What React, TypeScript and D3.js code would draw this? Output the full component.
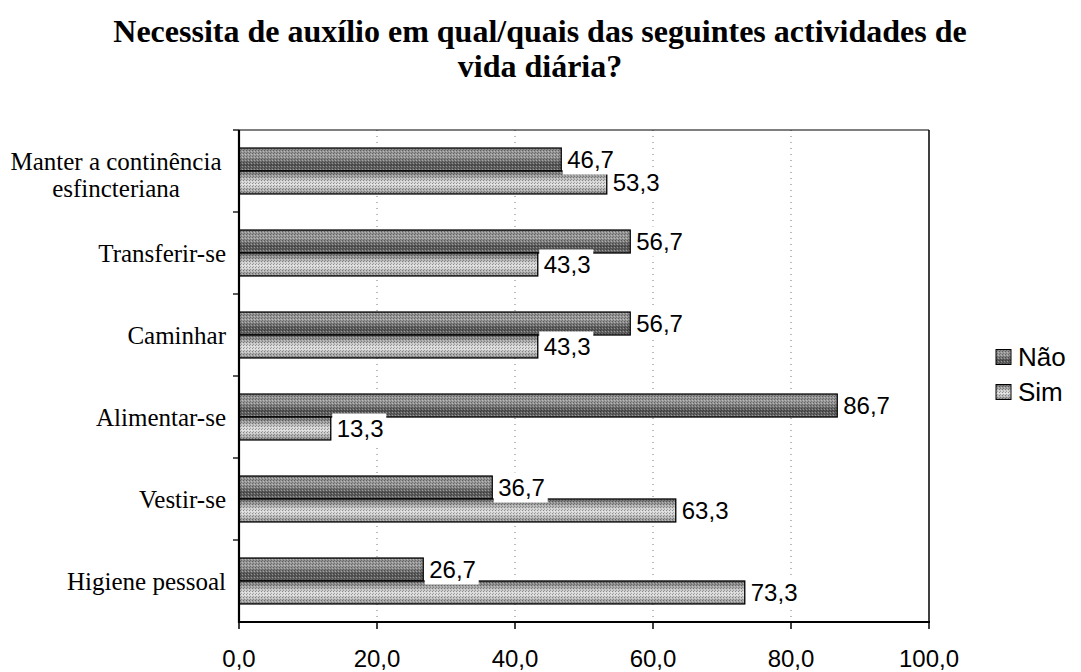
import React from "react";
import * as d3 from "d3";

const categories = [
  "Manter a continência esfincteriana",
  "Transferir-se",
  "Caminhar",
  "Alimentar-se",
  "Vestir-se",
  "Higiene pessoal",
];
const categoryLines: string[][] = [
  ["Manter a continência", "esfincteriana"],
  ["Transferir-se"],
  ["Caminhar"],
  ["Alimentar-se"],
  ["Vestir-se"],
  ["Higiene pessoal"],
];
const series = ["Não", "Sim"];
const naoValues = [46.7, 56.7, 56.7, 86.7, 36.7, 26.7];
const simValues = [53.3, 43.3, 43.3, 13.3, 63.3, 73.3];
const xTicks = [0, 20, 40, 60, 80, 100];
const titleLines = [
  "Necessita de auxílio em qual/quais das seguintes actividades de",
  "vida diária?",
];

const W = 1081;
const H = 672;
const plot = { left: 239, right: 929, top: 130, bottom: 622 };

const fmt = (v: number) => v.toFixed(1).replace(".", ",");

export default function App() {
  const x = d3.scaleLinear().domain([0, 100]).range([plot.left, plot.right]);
  const y = d3
    .scaleBand<string>()
    .domain(categories)
    .range([plot.top, plot.bottom])
    .paddingInner(0.44)
    .paddingOuter(0.22);
  const inner = d3.scaleBand<string>().domain(series).range([0, y.bandwidth()]);
  const valuesBySeries = [naoValues, simValues];
  const step = y.step();

  const bars: any[] = [];
  const labels: any[] = [];
  categories.forEach((c, i) => {
    series.forEach((s, si) => {
      const v = valuesBySeries[si][i];
      const y0 = (y(c) as number) + (inner(s) as number);
      const h = inner.bandwidth();
      bars.push({ key: c + s, x0: x(0), x1: x(v), y0, h, si });
      labels.push({ key: c + s + "l", x: x(v), yc: y0 + h / 2, text: fmt(v) });
    });
  });

  return (
    <svg width={W} height={H} style={{ display: "block", position: "absolute", left: 0, top: 0 }}>
      <defs>
        <linearGradient id="gNao" x1="0" y1="0" x2="0" y2="1">
          <stop offset="0" stopColor="#8c8c8c" />
          <stop offset="0.35" stopColor="#9c9c9c" />
          <stop offset="0.72" stopColor="#555555" />
          <stop offset="1" stopColor="#6e6e6e" />
        </linearGradient>
        <linearGradient id="gSim" x1="0" y1="0" x2="0" y2="1">
          <stop offset="0" stopColor="#6a6a6a" />
          <stop offset="0.45" stopColor="#d4d4d4" />
          <stop offset="0.6" stopColor="#dedede" />
          <stop offset="1" stopColor="#8a8a8a" />
        </linearGradient>
        <pattern id="dither" width="3" height="3" patternUnits="userSpaceOnUse">
          <rect x="0" y="0" width="1" height="1" fill="#000" fillOpacity="0.35" />
          <rect x="2" y="1" width="1" height="1" fill="#fff" fillOpacity="0.35" />
          <rect x="1" y="2" width="1" height="1" fill="#000" fillOpacity="0.25" />
        </pattern>
      </defs>
      <rect x={0} y={0} width={W} height={H} fill="#fff" />

      {titleLines.map((t, i) => (
        <text
          key={t}
          x={540}
          y={42 + i * 35}
          textAnchor="middle"
          fontFamily="'Liberation Serif', 'Times New Roman', serif"
          fontWeight="bold"
          fontSize={32}
          fill="#000"
        >
          {t}
        </text>
      ))}

      {/* gridlines */}
      {xTicks.slice(1, -1).map((t) => (
        <line
          key={"g" + t}
          x1={x(t)}
          x2={x(t)}
          y1={plot.top}
          y2={plot.bottom}
          stroke="#777"
          strokeWidth={1}
          strokeDasharray="1,5"
        />
      ))}

      {/* bars */}
      {bars.map((b) => (
        <g key={b.key}>
          <rect
            x={b.x0}
            y={b.y0}
            width={b.x1 - b.x0}
            height={b.h}
            fill={b.si === 0 ? "url(#gNao)" : "url(#gSim)"}
          />
          <rect x={b.x0} y={b.y0} width={b.x1 - b.x0} height={b.h} fill="url(#dither)" />
          <rect
            x={b.x0}
            y={b.y0}
            width={b.x1 - b.x0}
            height={b.h}
            fill="none"
            stroke="#000"
            strokeWidth={1.3}
          />
        </g>
      ))}

      {/* data labels */}
      {labels.map((l) => (
        <g key={l.key}>
          <rect x={l.x + 1.5} y={l.yc - 15} width={54} height={30} fill="#fff" />
          <text
            x={l.x + 6}
            y={l.yc}
            dy="0.36em"
            fontFamily="'Liberation Sans', Arial, sans-serif"
            fontSize={24}
            fill="#000"
          >
            {l.text}
          </text>
        </g>
      ))}

      {/* plot border */}
      <line x1={plot.left} x2={plot.right} y1={plot.top} y2={plot.top} stroke="#000" strokeWidth={1.2} />
      <line x1={plot.right} x2={plot.right} y1={plot.top} y2={plot.bottom} stroke="#000" strokeWidth={1.5} />
      {/* axes */}
      <line x1={plot.left} x2={plot.left} y1={plot.top} y2={plot.bottom + 1} stroke="#000" strokeWidth={2.2} />
      <line x1={plot.left - 1} x2={plot.right + 1} y1={plot.bottom} y2={plot.bottom} stroke="#000" strokeWidth={2.2} />

      {/* left ticks at category boundaries */}
      {categories.map((c, i) => (
        <line
          key={"lt" + i}
          x1={plot.left - 6}
          x2={plot.left}
          y1={plot.top + i * step}
          y2={plot.top + i * step}
          stroke="#000"
          strokeWidth={1.3}
        />
      ))}
      {/* bottom ticks */}
      {xTicks.map((t) => (
        <g key={"bt" + t}>
          <line x1={x(t)} x2={x(t)} y1={plot.bottom} y2={plot.bottom + 7} stroke="#000" strokeWidth={1.5} />
          <text
            x={x(t)}
            y={plot.bottom + 36}
            dy="0.36em"
            textAnchor="middle"
            fontFamily="'Liberation Sans', Arial, sans-serif"
            fontSize={24}
            fill="#000"
          >
            {fmt(t)}
          </text>
        </g>
      ))}

      {/* category labels */}
      {categories.map((c, i) => {
        const lines = categoryLines[i];
        const multi = lines.length > 1;
        const yc = (y(c) as number) + y.bandwidth() / 2 + (multi ? 4 : 0);
        const lh = 27;
        const cx = multi ? 116 : 226;
        return (
          <text
            key={"cl" + i}
            x={cx}
            textAnchor={multi ? "middle" : "end"}
            fontFamily="'Liberation Serif', 'Times New Roman', serif"
            fontSize={25}
            fill="#000"
          >
            {lines.map((ln, j) => (
              <tspan key={j} x={cx} y={yc + (j - (lines.length - 1) / 2) * lh} dy="0.35em">
                {ln}
              </tspan>
            ))}
          </text>
        );
      })}

      {/* legend */}
      {series.map((s, i) => (
        <g key={"lg" + s} transform={`translate(996, ${357 + i * 35})`}>
          <rect x={0} y={-7.5} width={15} height={15} fill={i === 0 ? "url(#gNao)" : "url(#gSim)"} />
          <rect x={0} y={-7.5} width={15} height={15} fill="url(#dither)" />
          <rect x={0} y={-7.5} width={15} height={15} fill="none" stroke="#000" strokeWidth={1} />
          <text
            x={22}
            y={0}
            dy="0.36em"
            fontFamily="'Liberation Sans', Arial, sans-serif"
            fontSize={26}
            fill="#000"
          >
            {s}
          </text>
        </g>
      ))}
    </svg>
  );
}
